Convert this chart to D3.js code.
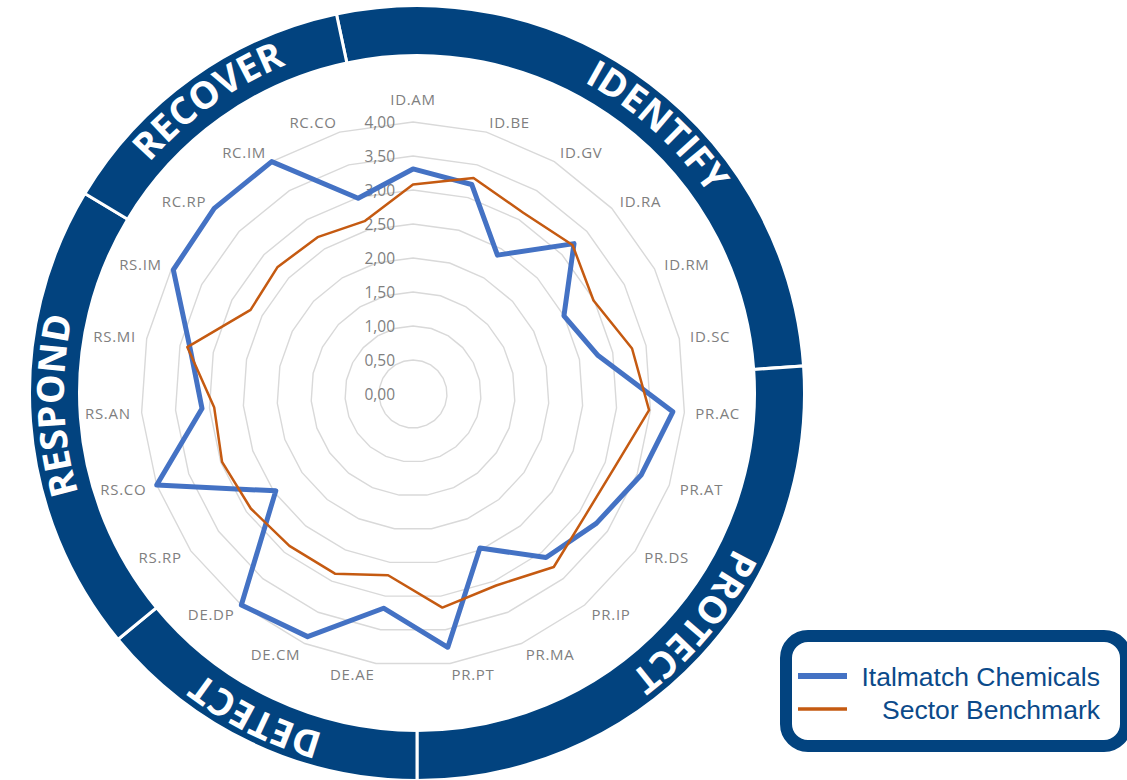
<!DOCTYPE html>
<html>
<head>
<meta charset="utf-8">
<script src="https://cdn.jsdelivr.net/npm/d3@7"></script>
<style>
  html, body { margin: 0; padding: 0; background: #ffffff; }
  svg { display: block; }
</style>
</head>
<body>
<svg id="chart" width="1127" height="780"></svg>
<script>
// NIST CSF categories, clockwise from the top
const categories = [
  "ID.AM", "ID.BE", "ID.GV", "ID.RA", "ID.RM", "ID.SC",
  "PR.AC", "PR.AT", "PR.DS", "PR.IP", "PR.MA", "PR.PT",
  "DE.AE", "DE.CM", "DE.DP",
  "RS.RP", "RS.CO", "RS.AN", "RS.MI", "RS.IM",
  "RC.RP", "RC.IM", "RC.CO"
];

// Maturity scores (0-4)
const italmatch = [
  3.31, 3.20, 2.39, 3.24, 2.50, 2.78,
  3.83, 3.56, 3.30, 3.10, 2.47, 3.76,
  3.18, 3.89, 4.00,
  2.47, 4.00, 3.11, 3.35, 3.97,
  4.00, 4.00, 2.99
];
const benchmark = [
  3.08, 3.30, 3.12, 3.21, 2.99, 3.29,
  3.48, 3.16, 3.10, 3.28, 3.07, 3.17,
  2.69, 2.88, 2.88,
  2.92, 2.98, 2.93, 3.39, 2.69,
  2.73, 2.70, 2.64
];

const tickValues = [0, 0.5, 1, 1.5, 2, 2.5, 3, 3.5, 4];
const seriesNames = ["Italmatch Chemicals", "Sector Benchmark"];

// CSF functions around the outer ring and their boundaries (degrees, clockwise from top)
const functionNames = ["IDENTIFY", "PROTECT", "DETECT", "RESPOND", "RECOVER"];
const functionBounds = [-12, 86, 180, 230.5, 301, 348];

// ---- layout ----
const W = 1127, H = 780;
const cx = 413, cy = 394, R = 272;
const ringCx = 417, ringCy = 393;
const ringInner = 339, ringOuter = 386;
const captionCenters = [42, 129.5, 206.5, 268, 324.5]; // degrees
const captionSpan = 60;                                 // degrees of arc per caption path
const navy = "#02437f";
const blue = "#4472c4";
const orange = "#c55a11";
const grey = "#7f7f7f";

const svg = d3.select("#chart");

const rScale = d3.scaleLinear().domain([0, 4]).range([0, R]);
const aScale = d3.scaleLinear().domain([0, categories.length]).range([0, 2 * Math.PI]);
const deg = d => d * Math.PI / 180;

// ---- outer ring ----
const ring = svg.append("g").attr("transform", `translate(${ringCx},${ringCy})`);
const ringArc = d3.arc().innerRadius(ringInner - 1.5).outerRadius(ringOuter + 1.5);
const segments = functionNames.map((name, i) => ({
  name,
  startAngle: deg(functionBounds[i]),
  endAngle: deg(functionBounds[i + 1]),
  caption: deg(captionCenters[i])
}));

ring.selectAll("path.seg")
  .data(segments)
  .join("path")
  .attr("class", "seg")
  .attr("d", ringArc)
  .attr("fill", navy)
  .attr("stroke", "#ffffff")
  .attr("stroke-width", 3);

// baseline arcs for the ring captions (clockwise so the letters face outward)
const textR = 353;
const pt = (a, r) => [r * Math.sin(a), -r * Math.cos(a)];
const defs = svg.append("defs");
segments.forEach((s, i) => {
  const a0 = s.caption - deg(captionSpan / 2), a1 = s.caption + deg(captionSpan / 2);
  const p0 = pt(a0, textR), p1 = pt(a1, textR);
  defs.append("path")
    .attr("id", "ringText" + i)
    .attr("d", `M${p0[0]},${p0[1]} A${textR},${textR} 0 0 1 ${p1[0]},${p1[1]}`);
});

ring.selectAll("text.func")
  .data(segments)
  .join("text")
  .attr("class", "func")
  .attr("fill", "#ffffff")
  .attr("font-family", "'Open Sans', 'Noto Sans', sans-serif")
  .attr("font-weight", 700)
  .attr("font-size", 37.5)
  .append("textPath")
  .attr("href", (d, i) => "#ringText" + i)
  .attr("startOffset", "50%")
  .attr("text-anchor", "middle")
  .text(d => d.name);

// ---- radar ----
const radar = svg.append("g").attr("transform", `translate(${cx},${cy})`);

const gridLine = d3.lineRadial()
  .angle((d, i) => aScale(i))
  .radius(d => rScale(d))
  .curve(d3.curveLinearClosed);

radar.append("g")
  .selectAll("path")
  .data(tickValues.filter(t => t > 0))
  .join("path")
  .attr("d", t => gridLine(categories.map(() => t)))
  .attr("fill", "none")
  .attr("stroke", "#d9d9d9")
  .attr("stroke-width", 1.4);

const fmt = v => d3.format(".2f")(v).replace(".", ",");
radar.append("g")
  .selectAll("text")
  .data(tickValues)
  .join("text")
  .attr("x", -18)
  .attr("y", t => -rScale(t))
  .attr("text-anchor", "end")
  .attr("dominant-baseline", "central")
  .attr("font-family", "'Open Sans', sans-serif")
  .attr("font-size", 15.5)
  .attr("fill", grey)
  .text(fmt);

// category labels
const labelR = 283;
radar.append("g")
  .selectAll("text")
  .data(categories)
  .join("text")
  .each(function (d, i) {
    const a = aScale(i);
    const s = Math.sin(a), c = Math.cos(a);
    const anchor = Math.abs(s) < 0.05 ? "middle" : (s > 0 ? "start" : "end");
    const shift = anchor === "middle" ? -c * 12 : 0;
    d3.select(this)
      .attr("x", labelR * s)
      .attr("y", -labelR * c + shift)
      .attr("text-anchor", anchor);
  })
  .attr("dominant-baseline", "central")
  .attr("font-family", "'Open Sans', sans-serif")
  .attr("font-size", 15)
  .attr("letter-spacing", 0.7)
  .attr("fill", grey)
  .text(d => d);

// series
const seriesLine = d3.lineRadial()
  .angle((d, i) => aScale(i))
  .radius(d => rScale(d))
  .curve(d3.curveLinearClosed);

radar.append("path")
  .datum(italmatch)
  .attr("d", seriesLine)
  .attr("fill", "none")
  .attr("stroke", blue)
  .attr("stroke-width", 5)
  .attr("stroke-linejoin", "round");

radar.append("path")
  .datum(benchmark)
  .attr("d", seriesLine)
  .attr("fill", "none")
  .attr("stroke", orange)
  .attr("stroke-width", 2.5)
  .attr("stroke-linejoin", "round");

// ---- legend ----
const legend = svg.append("g");
legend.append("rect")
  .attr("x", 786).attr("y", 636)
  .attr("width", 340).attr("height", 110)
  .attr("rx", 22).attr("ry", 22)
  .attr("fill", "#ffffff")
  .attr("stroke", navy)
  .attr("stroke-width", 12);

const legendItems = [
  { name: seriesNames[0], color: blue, width: 6, y: 676 },
  { name: seriesNames[1], color: orange, width: 3.5, y: 709 }
];
legend.selectAll("line")
  .data(legendItems)
  .join("line")
  .attr("x1", 798).attr("x2", 847)
  .attr("y1", d => d.y).attr("y2", d => d.y)
  .attr("stroke", d => d.color)
  .attr("stroke-width", d => d.width);

legend.selectAll("text")
  .data(legendItems)
  .join("text")
  .attr("x", 1100)
  .attr("y", d => d.y + 10)
  .attr("text-anchor", "end")
  .attr("font-family", "'Liberation Sans', Arial, sans-serif")
  .attr("font-size", 26.5)
  .attr("fill", "#0b4a8a")
  .text(d => d.name);
</script>
</body>
</html>
